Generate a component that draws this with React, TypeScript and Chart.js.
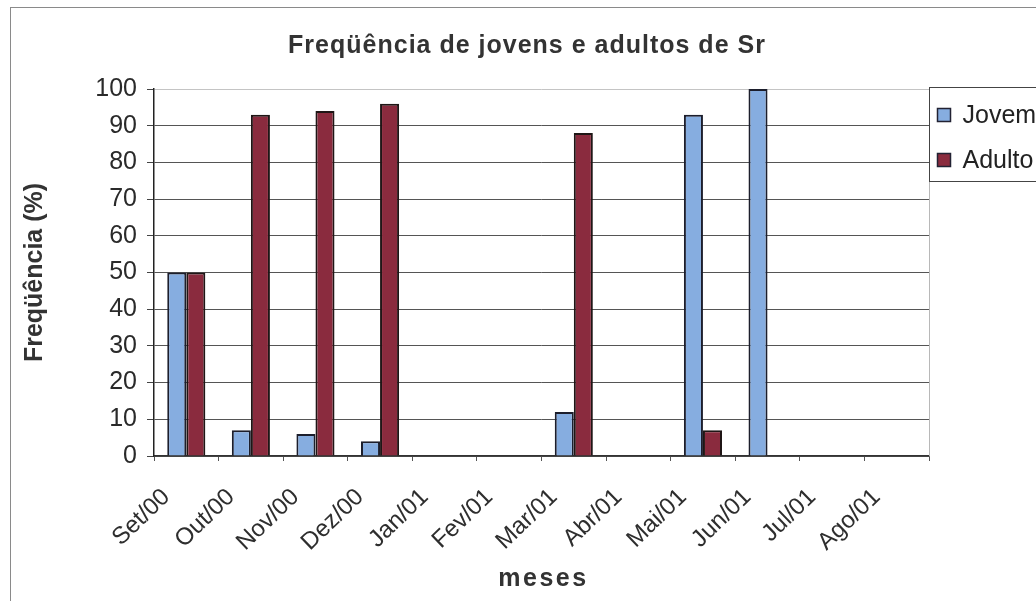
import React, { useEffect, useRef } from "react";
import { Chart, registerables } from "chart.js";

Chart.register(...registerables);

const months = ["Set/00", "Out/00", "Nov/00", "Dez/00", "Jan/01", "Fev/01", "Mar/01", "Abr/01", "Mai/01", "Jun/01", "Jul/01", "Ago/01"];
const jovens: (number | null)[] = [50, 7, 6, 4, null, null, 12, null, 93, 100, null, null];
const adultos: (number | null)[] = [50, 93, 94, 96, null, null, 88, null, 7, 0, null, null];
const seriesNames = ["Jovem", "Adulto"];
const seriesColors = ["#86ade0", "#8a2b3e"];
const chartTitle = "Freqüência de jovens e adultos de Sr";
const yTitle = "Freqüência (%)";
const xTitle = "meses";

const FONT = "Arial, 'Liberation Sans', sans-serif";
const CW = 1120;
const CH = 601;

const decorPlugin = {
  id: "decor",
  beforeDraw(chart: any) {
    const { ctx } = chart;
    ctx.save();
    ctx.fillStyle = "#ffffff";
    ctx.fillRect(0, 0, chart.width, chart.height);
    ctx.strokeStyle = "#8a8a8a";
    ctx.lineWidth = 1;
    ctx.strokeRect(10.5, 7.5, 1300, 800);
    ctx.restore();
  },
  beforeDatasetsDraw(chart: any) {
    const { ctx, chartArea } = chart;
    ctx.save();
    ctx.strokeStyle = "#b8b8b8";
    ctx.lineWidth = 1;
    ctx.beginPath();
    ctx.moveTo(Math.round(chartArea.right) + 0.5, chartArea.top);
    ctx.lineTo(Math.round(chartArea.right) + 0.5, chartArea.bottom);
    ctx.stroke();
    ctx.restore();
  },
  afterDraw(chart: any) {
    const { ctx, chartArea } = chart;
    ctx.save();
    // main title
    ctx.fillStyle = "#333333";
    ctx.font = `bold 25px ${FONT}`;
    (ctx as any).letterSpacing = "1px";
    ctx.textAlign = "center";
    ctx.textBaseline = "alphabetic";
    ctx.fillText(chartTitle, 527, 53);
    // x title
    (ctx as any).letterSpacing = "2.5px";
    ctx.fillText(xTitle, (chartArea.left + chartArea.right) / 2 + 2, 586);
    (ctx as any).letterSpacing = "0px";
    // legend
    const lx = Math.round(chartArea.right) + 0.5;
    ctx.fillStyle = "#ffffff";
    ctx.fillRect(lx, 87.5, 400, 94);
    ctx.strokeStyle = "#444444";
    ctx.lineWidth = 1;
    ctx.strokeRect(lx, 87.5, 400, 94);
    const rows = [115, 160];
    seriesNames.forEach((name, i) => {
      const cy = rows[i];
      ctx.fillStyle = seriesColors[i];
      ctx.fillRect(lx + 8, cy - 6.5, 13, 13);
      ctx.strokeStyle = "#222233";
      ctx.lineWidth = 1.5;
      ctx.strokeRect(lx + 8, cy - 6.5, 13, 13);
      ctx.fillStyle = "#222222";
      ctx.font = `25px ${FONT}`;
      ctx.textAlign = "left";
      ctx.textBaseline = "middle";
      ctx.fillText(name, lx + 33, cy + 1);
    });
    ctx.restore();
  },
};

export default function App() {
  const ref = useRef<HTMLCanvasElement | null>(null);

  useEffect(() => {
    if (!ref.current) return;
    const chart = new Chart(ref.current, {
      type: "bar",
      data: {
        labels: months,
        datasets: [
          {
            label: seriesNames[0],
            data: jovens,
            backgroundColor: seriesColors[0],
            borderColor: "#1c1e2c",
            borderWidth: 2,
            categoryPercentage: 0.59,
            barPercentage: 1.0,
          },
          {
            label: seriesNames[1],
            data: adultos,
            backgroundColor: seriesColors[1],
            borderColor: "#1f1616",
            borderWidth: 2,
            categoryPercentage: 0.59,
            barPercentage: 1.0,
          },
        ],
      },
      options: {
        responsive: false,
        animation: false,
        devicePixelRatio: 1,
        layout: { padding: { left: 0, right: CW - 929, top: 89, bottom: 0 } },
        plugins: {
          legend: { display: false },
          title: { display: false },
          tooltip: { enabled: false },
        },
        scales: {
          x: {
            offset: true,
            grid: {
              display: true,
              drawOnChartArea: false,
              drawTicks: true,
              tickLength: 5,
              offset: true,
              color: "#555555",
            },
            border: { display: true, color: "#333333", width: 1.5 },
            ticks: {
              autoSkip: false,
              minRotation: 44,
              maxRotation: 44,
              padding: 22,
              labelOffset: -20,
              color: "#2e2e2e",
              font: { family: FONT, size: 24 },
            },
            afterFit: (s: any) => {
              s.height = CH - 456;
            },
          },
          y: {
            min: 0,
            max: 100,
            ticks: {
              stepSize: 10,
              color: "#2a2a2a",
              padding: 10,
              font: { family: FONT, size: 25 },
            },
            grid: {
              color: (c: any) => (c.tick && c.tick.value === 100 ? "#c4c4c4" : "#555555"),
              tickColor: "#444444",
              tickLength: 7,
              lineWidth: 1,
            },
            border: { display: true, color: "#222222", width: 1.5 },
            title: {
              display: true,
              text: yTitle,
              color: "#333333",
              font: { family: FONT, size: 25, weight: "bold" },
              padding: { top: 20, bottom: 0 },
            },
            afterFit: (s: any) => {
              s.width = 154;
            },
          },
        },
      },
      plugins: [decorPlugin],
    });
    return () => chart.destroy();
  }, []);

  return (
    <div
      style={{
        position: "fixed",
        left: 0,
        top: 0,
        width: 1036,
        height: 601,
        overflow: "hidden",
        background: "#ffffff",
      }}
    >
      <canvas ref={ref} width={CW} height={CH} style={{ width: CW, height: CH, display: "block" }} />
    </div>
  );
}
